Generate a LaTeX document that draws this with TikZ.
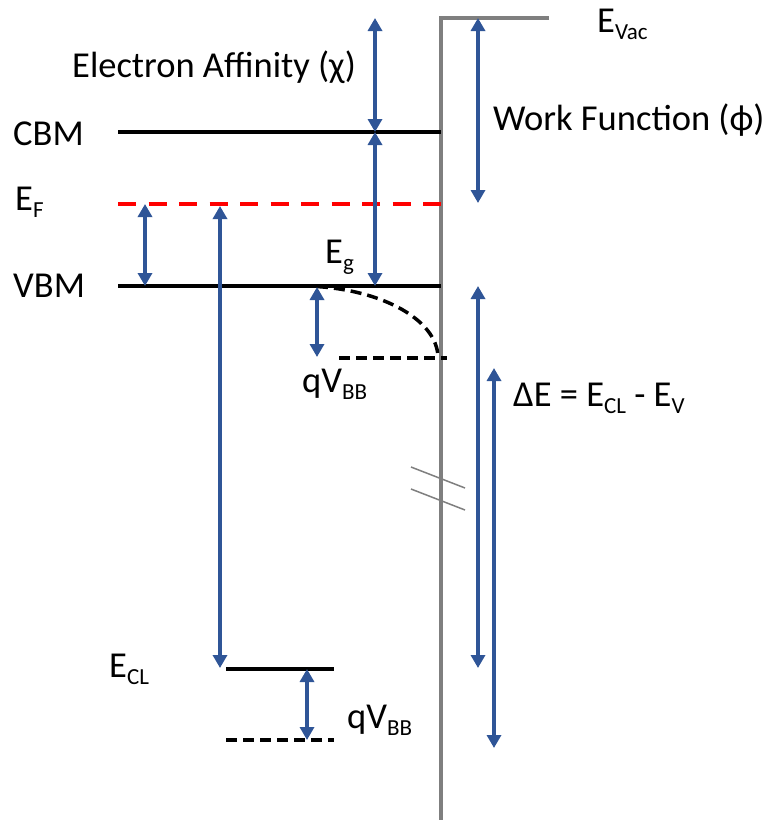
\documentclass[tikz,border=0pt]{standalone}
\usepackage{fontspec}
\setmainfont{Carlito}
\usetikzlibrary{arrows.meta}
\definecolor{arrblue}{HTML}{2F5597}
\definecolor{surfgray}{HTML}{7F7F7F}
\newcommand{\lsub}[1]{\raisebox{-7pt}{\fontsize{23}{26}\selectfont #1}}
\tikzset{
  lbl/.style={anchor=base west, inner sep=0pt, font=\fontsize{36.5}{42}\selectfont},
  level/.style={line width=3.5pt, black},
  shiftlvl/.style={line width=3.5pt, black, dash pattern=on 11pt off 6pt},
  fermi/.style={line width=3.5pt, red, dash pattern=on 18pt off 12.5pt},
  surf/.style={line width=3.5pt, surfgray},
  brk/.style={line width=1.5pt, surfgray},
  dbl/.style={line width=4pt, arrblue, {Triangle[length=13pt,width=14pt]}-{Triangle[length=13pt,width=14pt]}},
}
\begin{document}
\begin{tikzpicture}[x=1pt,y=-1pt]
\useasboundingbox (0,0) rectangle (766,820);
% coordinates
\coordinate (vacR) at (549,18);
\coordinate (vacL) at (441,18);
\coordinate (surfB) at (441,820);
\coordinate (cbmL) at (118,132); \coordinate (cbmR) at (441,132);
\coordinate (efL) at (118,204);  \coordinate (efR) at (441,204);
\coordinate (vbmL) at (118,286); \coordinate (vbmR) at (441,286);
\coordinate (bbS) at (300,286);  \coordinate (bbE) at (438,358);
\coordinate (bbL) at (339,358);  \coordinate (bbR) at (447,358);
\coordinate (clL) at (226,669);  \coordinate (clR) at (334,669);
\coordinate (cl2L) at (226,740); \coordinate (cl2R) at (334,740);
% surface / vacuum level
\draw[surf] (vacR) -- (vacL) -- (surfB);
% break mark
\coordinate (b1a) at (411,467); \coordinate (b1b) at (465,488);
\coordinate (b2a) at (411,489); \coordinate (b2b) at (465,510);
\draw[brk] (b1a) -- (b1b);
\draw[brk] (b2a) -- (b2b);
% levels
\draw[level] (cbmL) -- (cbmR);
\draw[fermi] (efL) -- (efR);
\draw[level] (vbmL) -- (vbmR);
\draw[shiftlvl] (bbS) .. controls (376,286) and (438,318) .. (bbE);
\draw[shiftlvl] (bbL) -- (bbR);
\draw[level] (clL) -- (clR);
\draw[shiftlvl] (cl2L) -- (cl2R);
% arrows
\coordinate (chiT) at (375,18);  \coordinate (chiB) at (375,132);
\coordinate (egB) at (375,286);
\draw[dbl] (chiT) -- (chiB);
\draw[dbl] (chiB) -- (egB);
\coordinate (wfT) at (478,18);   \coordinate (wfB) at (478,203);
\draw[dbl] (wfT) -- (wfB);
\coordinate (evT) at (145,204);  \coordinate (evB) at (145,286);
\draw[dbl] (evT) -- (evB);
\coordinate (lgT) at (220,206);  \coordinate (lgB) at (220,668);
\draw[dbl] (lgT) -- (lgB);
\coordinate (q1T) at (317,287);  \coordinate (q1B) at (317,357);
\draw[dbl] (q1T) -- (q1B);
\coordinate (q2T) at (307,669);  \coordinate (q2B) at (307,740);
\draw[dbl] (q2T) -- (q2B);
\coordinate (d1T) at (478,286);  \coordinate (d1B) at (478,668);
\draw[dbl] (d1T) -- (d1B);
\coordinate (d2T) at (494,368);  \coordinate (d2B) at (494,748);
\draw[dbl] (d2T) -- (d2B);
% labels
\node[lbl] (tvac) at (597,32) {E\lsub{Vac}};
\node[lbl] (tchi) at (72,77) {Electron Affinity (χ)};
\node[lbl] (twf) at (493,130) {Work Function (ϕ)};
\node[lbl] (tcbm) at (13,145) {CBM};
\node[lbl] (tef) at (15,210) {E\lsub{F}};
\node[lbl] (tvbm) at (13,297) {VBM};
\node[lbl] (teg) at (325,263) {E\lsub{g}};
\node[lbl] (tq1) at (302,392) {qV\lsub{BB}};
\node[lbl] (tde) at (513,406) {ΔE = E\lsub{CL} - E\lsub{V}};
\node[lbl] (tcl) at (109,677) {E\lsub{CL}};
\node[lbl] (tq2) at (347,728) {qV\lsub{BB}};
\end{tikzpicture}
\end{document}
